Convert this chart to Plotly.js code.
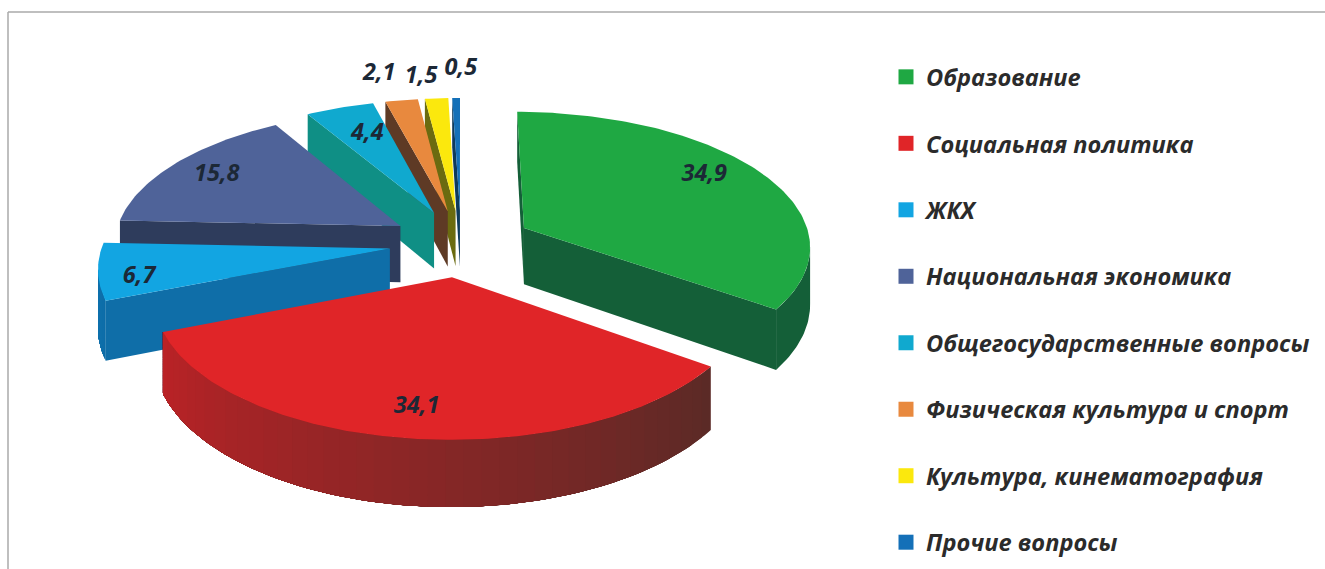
<!DOCTYPE html>
<html>
<head>
<meta charset="utf-8">
<script src="https://cdn.plot.ly/plotly-3.0.1.min.js"></script>
<style>html,body{margin:0;padding:0;background:#fff;overflow:hidden}#chart{width:1325px;height:569px}</style>
</head>
<body>
<div id="chart"></div>
<script>
const categories = ['Образование','Социальная политика','ЖКХ','Национальная экономика','Общегосударственные вопросы','Физическая культура и спорт','Культура, кинематография','Прочие вопросы'];
const values = [34.9,34.1,6.7,15.8,4.4,2.1,1.5,0.5];
const topColors = ['#1fa843','#e02528','#12a5e2','#4f6399','#10a9cf','#e8893e','#fbe80d','#1470b8'];
const faceColors = ['#145f38','#7a2a2a','#0f6ea8','#2e3c5c','#0f8f85','#5e3a25','#6b6b10','#0e3a5c'];
const arcFrom = ['#145f38','#5a2a26','#0f6ea8','#2e3c5c','#0f8f85','#5e3a25','#6b6b10','#0e3a5c'];
const arcTo = ['#145f38','#bb2226','#1277b5','#2e3c5c','#0f8f85','#5e3a25','#6b6b10','#0e3a5c'];
const labelAngle = [58.3,186.6,256.1,301.3,339.3,347.5,353.8,0.7];
const labelRadius = [0.814,0.825,0.856,0.798,0.72,1.279,1.221,1.297];
const drawOrder = [7,6,5,4,3,2,0,1];

const explode = 0.25, cx = 461, cy = 243, A = 287, B = 133.7, K = 0.122, H = 57, labelNudge = -3;
const rad = d => d * Math.PI / 180;
const project = (X, Y, down) => {
  const s = 1 / (1 + K * Y);
  return [cx + A * X * s, cy - B * Y * s + (down ? H * s : 0)];
};
const total = values.reduce((a, b) => a + b, 0);
let acc = 0;
const slices = values.map(v => {
  const a0 = acc / total * 360; acc += v; const a1 = acc / total * 360;
  const m = (a0 + a1) / 2;
  return {a0, a1, m, px: explode * Math.sin(rad(m)), py: explode * Math.cos(rad(m))};
});
const polar = (sl, deg, r, down) => project(sl.px + r * Math.sin(rad(deg)), sl.py + r * Math.cos(rad(deg)), down);
const area = p => p.reduce((acc2, q, i) => { const n = p[(i + 1) % p.length]; return acc2 + q[0] * n[1] - n[0] * q[1]; }, 0);
const hex = c => [1, 3, 5].map(i => parseInt(c.substr(i, 2), 16));
const mix = (a, b, t) => { const x = hex(a), y = hex(b); return 'rgb(' + x.map((v, i) => Math.round(v + (y[i] - v) * t)).join(',') + ')'; };
const poly = (pts, color) => ({
  type: 'scatter', mode: 'lines', x: pts.map(p => p[0]).concat(pts[0][0]), y: pts.map(p => p[1]).concat(pts[0][1]),
  fill: 'toself', fillcolor: color, line: {color: color, width: 0}, showlegend: false, hoverinfo: 'skip'
});

const traces = [];
categories.forEach((name, i) => traces.push({
  type: 'scatter', mode: 'markers', x: [null], y: [null], name, legendgroup: 'g' + i,
  marker: {symbol: 'square', size: 15, color: topColors[i]}, hoverinfo: 'skip'
}));
drawOrder.forEach(i => {
  const sl = slices[i];
  const start = [polar(sl, 0, 0, false), polar(sl, sl.a0, 1, false), polar(sl, sl.a0, 1, true), polar(sl, 0, 0, true)];
  const end = [polar(sl, 0, 0, false), polar(sl, sl.a1, 1, false), polar(sl, sl.a1, 1, true), polar(sl, 0, 0, true)];
  if (area(start) < 0) traces.push(poly(start, faceColors[i]));
  if (area(end) > 0) traces.push(poly(end, faceColors[i]));
  // outer wall: each band runs on to the last visible angle, so later bands overpaint without seams
  const visible = [];
  for (let a = sl.a0; a < sl.a1; a += 1) {
    const b = Math.min(a + 1, sl.a1);
    const q = [polar(sl, a, 1, false), polar(sl, b, 1, false), polar(sl, b, 1, true), polar(sl, a, 1, true)];
    if (area(q) < 0) visible.push(a, b);
  }
  if (visible.length) {
    const lo = Math.min(...visible), hi = Math.max(...visible);
    const bands = arcFrom[i] === arcTo[i] ? 1 : 40;
    for (let n = 0; n < bands; n++) {
      const from = lo + (hi - lo) * n / bands;
      const upper = [], lower = [];
      for (let a = from; a < hi; a += 1) { upper.push(polar(sl, a, 1, false)); lower.push(polar(sl, a, 1, true)); }
      upper.push(polar(sl, hi, 1, false)); lower.push(polar(sl, hi, 1, true));
      traces.push(poly(upper.concat(lower.reverse()), mix(arcFrom[i], arcTo[i], ((from + (hi - lo) / bands / 2) - sl.a0) / (sl.a1 - sl.a0))));
    }
  }
  const top = [polar(sl, 0, 0, false)];
  for (let a = sl.a0; a < sl.a1; a += 1) top.push(polar(sl, a, 1, false));
  top.push(polar(sl, sl.a1, 1, false));
  traces.push(poly(top, topColors[i]));
});
const labelPts = slices.map((sl, i) => polar(sl, labelAngle[i], labelRadius[i], false));
traces.push({
  type: 'scatter', mode: 'text', x: labelPts.map(p => p[0] + labelNudge), y: labelPts.map(p => p[1]),
  text: values.map(v => v.toFixed(1).replace('.', ',')), textposition: 'middle center',
  textfont: {family: '"Open Sans", sans-serif', size: 23.5, weight: 700, style: 'italic', color: '#1c2836'},
  showlegend: false, hoverinfo: 'skip'
});

const layout = {
  width: 1325, height: 569, margin: {l: 0, r: 0, t: 0, b: 0},
  paper_bgcolor: '#ffffff', plot_bgcolor: '#ffffff',
  xaxis: {range: [0, 1325], visible: false, fixedrange: true},
  yaxis: {range: [569, 0], visible: false, fixedrange: true},
  legend: {
    x: 886 / 1325, y: 1 - 55 / 569, xanchor: 'left', yanchor: 'top', tracegroupgap: 32.8, itemwidth: 30,
    font: {family: '"Open Sans", sans-serif', size: 23.6, weight: 700, style: 'italic', color: '#2b2b2b'},
    bgcolor: 'rgba(0,0,0,0)'
  },
  shapes: [
    {type: 'line', xref: 'x', yref: 'y', x0: 8, x1: 1325, y0: 12, y1: 12, line: {color: '#aaaaaa', width: 1.5}},
    {type: 'line', xref: 'x', yref: 'y', x0: 8, x1: 8, y0: 12, y1: 569, line: {color: '#aaaaaa', width: 1.5}}
  ]
};
Plotly.newPlot('chart', traces, layout, {displayModeBar: false, staticPlot: true});
</script>
</body>
</html>
